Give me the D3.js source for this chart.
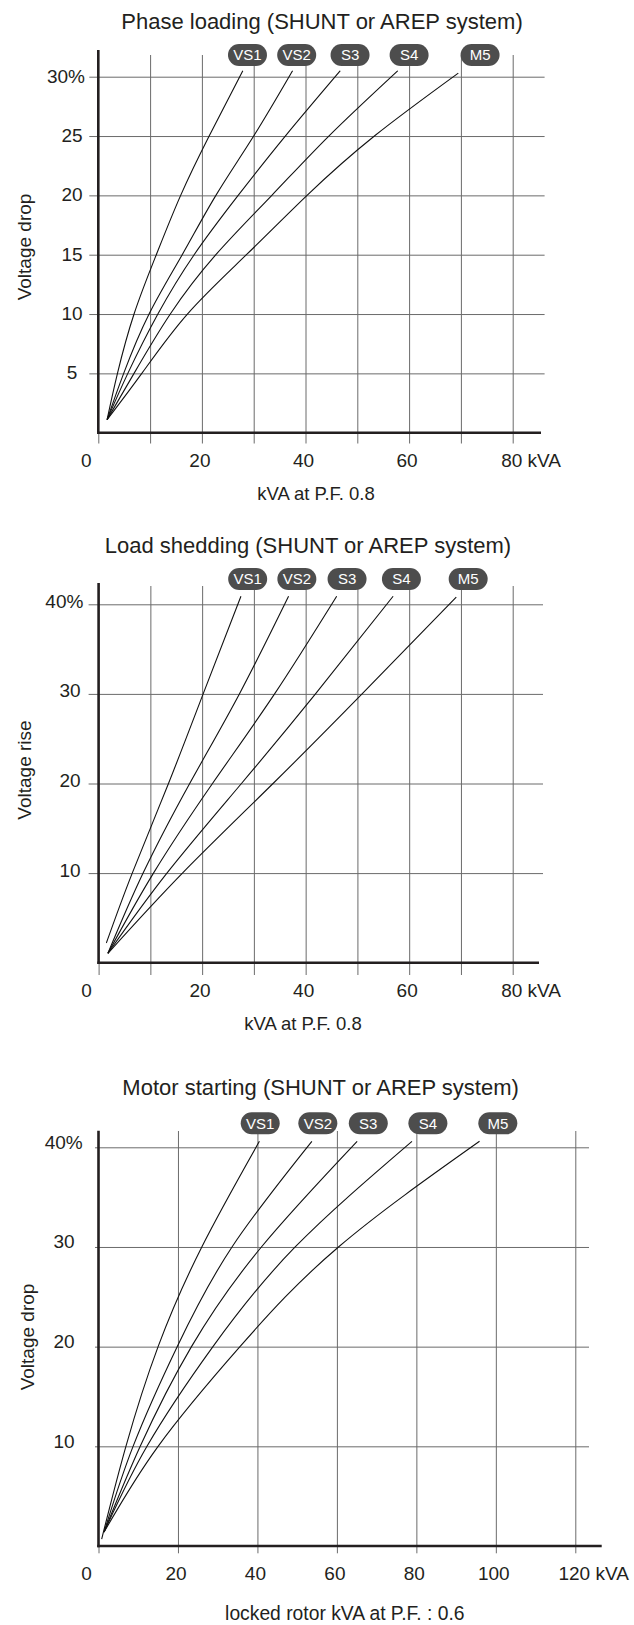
<!DOCTYPE html>
<html>
<head>
<meta charset="utf-8">
<script src="https://cdn.jsdelivr.net/npm/d3@7"></script>
<style>
body { margin: 0; background: #fff; }
svg text { font-family: "Liberation Sans", Arial, sans-serif; fill: #231f20; }
</style>
</head>
<body>
<svg id="chart" width="634" height="1625"></svg>
<script>
var seriesNames = ["VS1", "VS2", "S3", "S4", "M5"]

// Phase loading: [kVA at P.F. 0.8, % voltage drop]
var phaseVS1 = [[1.7, 1.1], [3.7, 5], [6.9, 10], [11.2, 15], [15.9, 20], [21.4, 25], [27.9, 30.5]]
var phaseVS2 = [[1.7, 1.1], [4.9, 5], [9.8, 10], [16.2, 15], [22.7, 20], [30, 25], [37.5, 30.5]]
var phaseS3 = [[1.7, 1.1], [5.7, 5], [11.5, 10], [18.5, 15], [27, 20], [36.1, 25], [46.7, 30.5]]
var phaseS4 = [[1.7, 1.1], [6.9, 5], [13.9, 10], [22.7, 15], [33.5, 20], [44.5, 25], [57.8, 30.5]]
var phaseM5 = [[1.7, 1.1], [8.4, 5], [17.2, 10], [28.6, 15], [40.3, 20], [53.3, 25], [69.5, 30.3]]

// Load shedding: [kVA at P.F. 0.8, % voltage rise]
var sheddingVS1 = [[1.5, 2.2], [6.5, 10], [13.5, 20], [20.2, 30], [27.5, 40.9]]
var sheddingVS2 = [[1.8, 1.05], [8.6, 10], [17.6, 20], [27.2, 30], [36.7, 40.9]]
var sheddingS3 = [[1.8, 1.05], [10.6, 10], [22, 20], [34, 30], [46, 40.9]]
var sheddingS4 = [[1.8, 1.05], [13.2, 10], [27.6, 20], [41.9, 30], [56.9, 40.9]]
var sheddingM5 = [[1.8, 1.05], [16.2, 10], [33.7, 20], [50.9, 30], [69.1, 40.8]]

// Motor starting: [locked rotor kVA at P.F. 0.6, % voltage drop]
var motorVS1 = [[0.8, 0.7], [6.9, 10], [15, 20], [26, 30], [40.5, 40.6]]
var motorVS2 = [[1.4, 1.4], [8.7, 10], [19.8, 20], [33.6, 30], [53.7, 40.6]]
var motorS3 = [[1.4, 1.4], [10.5, 10], [23.4, 20], [41, 30], [65.1, 40.6]]
var motorS4 = [[1.4, 1.4], [12.2, 10], [28.8, 20], [49.5, 30], [78.9, 40.6]]
var motorM5 = [[1.4, 1.4], [15, 10], [35.6, 20], [60.4, 30], [95.9, 40.6]]

var phaseTicksX = [0, 20, 40, 60, 80]
var phaseGridX = [10, 20, 30, 40, 50, 60, 70, 80]
var phaseTicksY = [5, 10, 15, 20, 25, 30]
var sheddingTicksY = [10, 20, 30, 40]
var motorTicksX = [0, 20, 40, 60, 80, 100, 120]
var motorGridX = [20, 40, 60, 80, 100, 120]
var motorTicksY = [10, 20, 30, 40]

var gridColor = "#6b6b6b"
var inkColor = "#231f20"
var pillColor = "#4d4d4d"

var svg = d3.select("#chart")
svg.append("rect").attr("width", 634).attr("height", 1625).attr("fill", "#fff")

var charts = [
	{
		title: "Phase loading (SHUNT or AREP system)", titleX: 322, titleY: 29,
		xTitle: "kVA at P.F. 0.8", xTitleX: 316, xTitleY: 500, xTitleSize: 18.5,
		yTitle: "Voltage drop", yTitleX: 31, yTitleY: 247,
		series: [phaseVS1, phaseVS2, phaseS3, phaseS4, phaseM5],
		labelAt: [28.8, 38.3, 48.6, 60, 73.7], pillY: 55,
		ticksX: phaseTicksX, gridX: phaseGridX, ticksY: phaseTicksY,
		xDomain: [0, 80], xRange: [98.3, 512.7],
		yDomain: [0, 30], yRange: [432.7, 76.7],
		axisRight: 541, gridLeft: 89.3, gridRight: 544.6,
		yAxisTop: 50, gridTop: 55, tickBottom: 443.5,
		yLabelX: 72, pctRight: 85, yLabelDy: 6, xLabelY: 466.7
	},
	{
		title: "Load shedding (SHUNT or AREP system)", titleX: 308, titleY: 553,
		xTitle: "kVA at P.F. 0.8", xTitleX: 303, xTitleY: 1030, xTitleSize: 18.5,
		yTitle: "Voltage rise", yTitleX: 31, yTitleY: 770,
		series: [sheddingVS1, sheddingVS2, sheddingS3, sheddingS4, sheddingM5],
		labelAt: [28.8, 38.3, 48, 58.5, 71.4], pillY: 579,
		ticksX: phaseTicksX, gridX: phaseGridX, ticksY: sheddingTicksY,
		xDomain: [0, 80], xRange: [98.6, 512.7],
		yDomain: [0, 40], yRange: [962.7, 604.3],
		axisRight: 539, gridLeft: 88.6, gridRight: 543,
		yAxisTop: 583, gridTop: 586, tickBottom: 975,
		yLabelX: 70, pctRight: 83.4, yLabelDy: 3.5, xLabelY: 997
	},
	{
		title: "Motor starting (SHUNT or AREP system)", titleX: 320.6, titleY: 1095,
		xTitle: "locked rotor kVA at P.F. : 0.6", xTitleX: 344.8, xTitleY: 1620, xTitleSize: 19.3,
		yTitle: "Voltage drop", yTitleX: 34, yTitleY: 1337,
		series: [motorVS1, motorVS2, motorS3, motorS4, motorM5],
		labelAt: [40.7, 55.2, 67.9, 82.9, 100.5], pillY: 1123.3,
		ticksX: motorTicksX, gridX: motorGridX, ticksY: motorTicksY,
		xDomain: [0, 120], xRange: [98.5, 575.3],
		yDomain: [0, 40], yRange: [1546, 1147.3],
		axisRight: 601.7, gridLeft: 95, gridRight: 589,
		yAxisTop: 1130.7, gridTop: 1131, tickBottom: 1553.3,
		yLabelX: 64, pctRight: 82.7, yLabelDy: 1.5, xLabelY: 1580
	}
]

function drawChart(cfg) {
	var x = d3.scaleLinear().domain(cfg.xDomain).range(cfg.xRange)
	var y = d3.scaleLinear().domain(cfg.yDomain).range(cfg.yRange)
	var axisY = y(0)
	var g = svg.append("g")

	// vertical grid: axis ticks rising from below the baseline
	var gx = g.append("g").attr("transform", "translate(0," + cfg.tickBottom + ")")
		.call(d3.axisTop(x).tickValues([0].concat(cfg.gridX))
			.tickSize(cfg.tickBottom - cfg.gridTop).tickFormat(""))
	gx.select(".domain").remove()
	gx.selectAll(".tick line").attr("stroke", gridColor).attr("stroke-width", 1)
		.attr("y2", function(d) {
			return d == 0 ? -(cfg.tickBottom - axisY) : -(cfg.tickBottom - cfg.gridTop)
		})

	// horizontal grid
	var gy = g.append("g").attr("transform", "translate(" + cfg.gridRight + ",0)")
		.call(d3.axisLeft(y).tickValues(cfg.ticksY)
			.tickSize(cfg.gridRight - cfg.gridLeft).tickFormat(""))
	gy.select(".domain").remove()
	gy.selectAll(".tick line").attr("stroke", gridColor).attr("stroke-width", 1)

	// axes lines
	g.append("line").attr("x1", x(0)).attr("x2", x(0))
		.attr("y1", cfg.yAxisTop).attr("y2", axisY + 1.3)
		.attr("stroke", inkColor).attr("stroke-width", 2.6)
	g.append("line").attr("x1", x(0) - 1.3).attr("x2", cfg.axisRight)
		.attr("y1", axisY).attr("y2", axisY)
		.attr("stroke", inkColor).attr("stroke-width", 2.6)

	// y tick labels
	var yMax = d3.max(cfg.ticksY)
	g.selectAll("text.ylab").data(cfg.ticksY).enter().append("text")
		.attr("class", "ylab")
		.attr("x", function(d) { return d == yMax ? cfg.pctRight : cfg.yLabelX })
		.attr("y", function(d) { return y(d) + cfg.yLabelDy })
		.attr("text-anchor", function(d) { return d == yMax ? "end" : "middle" })
		.attr("font-size", 19)
		.text(function(d) { return d == yMax ? d + "%" : d })

	// x tick labels
	var xMax = d3.max(cfg.ticksX)
	g.selectAll("text.xlab").data(cfg.ticksX).enter().append("text")
		.attr("class", "xlab")
		.attr("x", function(d) { return x(d) + (d == 0 ? -12 : -2) })
		.attr("y", cfg.xLabelY)
		.attr("text-anchor", function(d) { return d == xMax ? "start" : "middle" })
		.attr("font-size", 19)
		.text(function(d) { return d == xMax ? d + " kVA" : d })
		.each(function(d) {
			if (d == xMax) {
				var half = this.getSubStringLength(0, String(d).length) / 2
				d3.select(this).attr("x", x(d) - half - 1)
			}
		})

	// curves
	var line = d3.line()
		.x(function(d) { return x(d[0]) })
		.y(function(d) { return y(d[1]) })
		.curve(d3.curveNatural)
	g.selectAll("path.curve").data(cfg.series).enter().append("path")
		.attr("class", "curve")
		.attr("d", line)
		.attr("fill", "none").attr("stroke", "#111").attr("stroke-width", 1.1)

	// series pills
	var pills = g.selectAll("g.pill").data(seriesNames).enter().append("g")
		.attr("class", "pill")
		.attr("transform", function(d, i) {
			return "translate(" + x(cfg.labelAt[i]) + "," + cfg.pillY + ")"
		})
	pills.append("rect").attr("x", -19.5).attr("y", -11).attr("width", 39)
		.attr("height", 22).attr("rx", 11).attr("fill", pillColor)
	pills.append("text").attr("text-anchor", "middle").attr("y", 5.3)
		.attr("font-size", 15).style("fill", "#fff")
		.text(function(d) { return d })

	// titles
	g.append("text").attr("x", cfg.titleX).attr("y", cfg.titleY)
		.attr("text-anchor", "middle").attr("font-size", 22).text(cfg.title)
	g.append("text").attr("x", cfg.xTitleX).attr("y", cfg.xTitleY)
		.attr("text-anchor", "middle").attr("font-size", cfg.xTitleSize).text(cfg.xTitle)
	g.append("text").attr("transform", "translate(" + cfg.yTitleX + "," + cfg.yTitleY + ") rotate(-90)")
		.attr("text-anchor", "middle").attr("font-size", 19).text(cfg.yTitle)
}

charts.forEach(drawChart)
</script>
</body>
</html>
